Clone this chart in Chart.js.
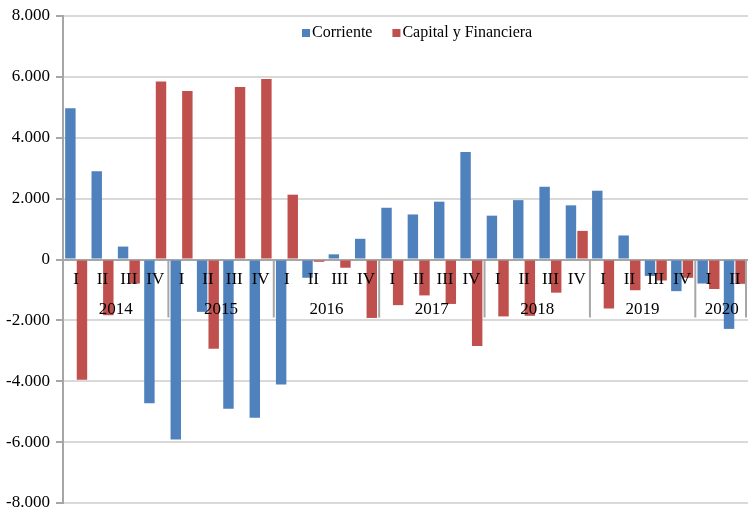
<!DOCTYPE html>
<html>
<head>
<meta charset="utf-8">
<script src="https://cdn.jsdelivr.net/npm/chart.js@4"></script>
<style>
  html, body { margin: 0; padding: 0; background: #fff; }
  #wrap { width: 748px; height: 512px; }
</style>
</head>
<body>
<div id="wrap"><canvas id="c" width="748" height="512"></canvas></div>
<script>
// Quarter labels and the year each group of quarters belongs to
const quarters = ['I','II','III','IV','I','II','III','IV','I','II','III','IV','I','II','III','IV',
                  'I','II','III','IV','I','II','III','IV','I','II'];
const years = ['2014','2015','2016','2017','2018','2019','2020'];
const quartersPerYear = [4, 4, 4, 4, 4, 4, 2];

// Balance values (millions), one per quarter
const corriente = [4970, 2900, 425, -4720, -5910, -1720, -4900, -5200,
                   -4110, -600, 170, 680, 1700, 1480, 1900, 3530,
                   1440, 1950, 2390, 1780, 2260, 790, -540, -1040,
                   -790, -2280];
const capitalFinanciera = [-3950, -1830, -790, 5850, 5540, -2930, 5670, 5930,
                           2130, -75, -270, -1920, -1500, -1180, -1460, -2840,
                           -1870, -1850, -1090, 940, -1610, -1010, -690, -600,
                           -970, -800];

const seriesNames = ['Corriente', 'Capital y Financiera'];
const seriesColors = ['#4f81bd', '#c0504d'];

const FONT = '"Liberation Serif", "Times New Roman", serif';

function fmt(v) {
  const s = Math.abs(v).toString().replace(/\B(?=(\d{3})+(?!\d))/g, '.');
  return (v < 0 ? '-' : '') + s;
}

// Quarter / year labels drawn along the zero line, with year separators
const groupAxis = {
  id: 'groupAxis',
  afterDatasetsDraw(chart) {
    const ctx = chart.ctx;
    const x = chart.scales.x, y = chart.scales.y;
    const y0 = y.getPixelForValue(0);
    const step = x.width / quarters.length;
    ctx.save();
    ctx.fillStyle = '#000';
    ctx.textAlign = 'center';
    ctx.textBaseline = 'middle';
    ctx.font = '17px ' + FONT;
    quarters.forEach((q, i) => {
      ctx.fillText(q, x.getPixelForValue(i), y0 + 20);
    });
    let start = 0;
    ctx.strokeStyle = '#a6a6a6';
    ctx.lineWidth = 2;
    years.forEach((yr, k) => {
      const n = quartersPerYear[k];
      const left = x.left + start * step;
      const right = x.left + (start + n) * step;
      ctx.fillText(yr, (left + right) / 2, y0 + 50);
      const sx = Math.min(right, chart.chartArea.right - 2);
      ctx.beginPath();
      ctx.moveTo(sx, y0);
      ctx.lineTo(sx, y0 + 58);
      ctx.stroke();
      start += n;
    });
    ctx.restore();
  }
};

// Legend drawn inside the plot area
const innerLegend = {
  id: 'innerLegend',
  afterDraw(chart) {
    const ctx = chart.ctx;
    ctx.save();
    ctx.font = '16px ' + FONT;
    ctx.textBaseline = 'middle';
    ctx.textAlign = 'left';
    const items = chart.data.datasets.map(d => ({ text: d.label, color: d.backgroundColor }));
    let xPos = 302;
    const yPos = 33;
    items.forEach(it => {
      ctx.fillStyle = it.color;
      ctx.fillRect(xPos, yPos - 4, 8, 8);
      ctx.fillStyle = '#000';
      ctx.fillText(it.text, xPos + 10, yPos);
      xPos += 10 + ctx.measureText(it.text).width + 20;
    });
    ctx.restore();
  }
};

new Chart(document.getElementById('c'), {
  type: 'bar',
  data: {
    labels: quarters,
    datasets: [
      { label: seriesNames[0], data: corriente, backgroundColor: seriesColors[0] },
      { label: seriesNames[1], data: capitalFinanciera, backgroundColor: seriesColors[1] }
    ]
  },
  options: {
    responsive: false,
    animation: false,
    devicePixelRatio: 1,
    layout: { padding: { top: 16, bottom: 9, right: 0, left: 0 } },
    datasets: { bar: { categoryPercentage: 0.88, barPercentage: 0.9 } },
    plugins: {
      legend: { display: false },
      title: { display: false },
      tooltip: { enabled: false }
    },
    scales: {
      x: { display: false },
      y: {
        min: -8000, max: 8000,
        afterFit(s) { s.width = 63; s.paddingTop = 0; s.paddingBottom = 0; },
        ticks: {
          stepSize: 2000,
          color: '#000',
          padding: 6,
          font: { family: FONT, size: 17 },
          callback: v => fmt(v)
        },
        grid: {
          color: ctx => ctx.tick && ctx.tick.value === 0 ? '#a6a6a6' : '#d9d9d9',
          lineWidth: 2,
          tickLength: 7,
          tickColor: '#a6a6a6'
        },
        border: { color: '#a6a6a6', width: 2 }
      }
    }
  },
  plugins: [groupAxis, innerLegend]
});
</script>
</body>
</html>
